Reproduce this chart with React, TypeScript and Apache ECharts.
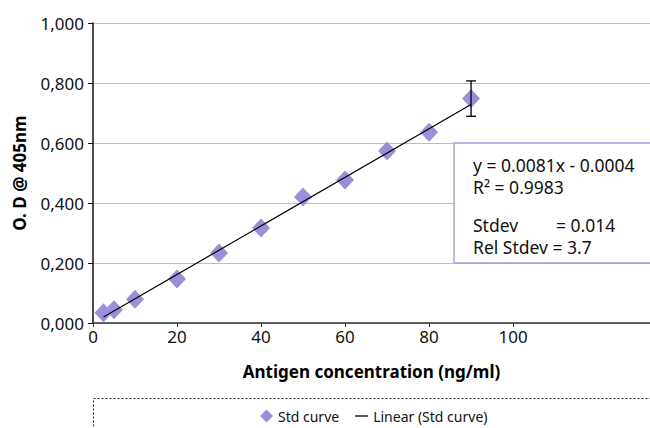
import React, { useEffect, useRef } from "react";
import * as echarts from "echarts";

const concentrations = [2.5, 5, 10, 20, 30, 40, 50, 60, 70, 80, 90];
const odValues = [0.034, 0.044, 0.079, 0.147, 0.233, 0.317, 0.42, 0.477, 0.573, 0.636, 0.748];
const errorBars = [[90, 0.748, 0.059]];
const slope = 0.0081;
const intercept = -0.0004;
const trendRange = [2.5, 90];
const xTickValues = [0, 20, 40, 60, 80, 100];
const statLines = ["y = 0.0081x - 0.0004", "R² = 0.9983"];

const FONT = "'Noto Sans', 'Open Sans', sans-serif";
const PURPLE = "#9b8fd9";

export default function App() {
  const ref = useRef<HTMLDivElement>(null);
  useEffect(() => {
    const chart = echarts.init(ref.current!, null, { renderer: "svg" });
    const trend = trendRange.map((x) => [x, slope * x + intercept]);
    chart.setOption({
      animation: false,
      backgroundColor: "#fff",
      textStyle: { fontFamily: FONT },
      grid: { left: 93, right: 0, top: 23, bottom: 105, containLabel: false },
      xAxis: {
        type: "value",
        min: 0,
        max: 132.6,
        name: "Antigen concentration (ng/ml)",
        nameLocation: "middle",
        nameGap: 40,
        nameTextStyle: { fontFamily: FONT, fontSize: 17, fontWeight: "bold", color: "#000" },
        axisLine: { show: true, lineStyle: { color: "#333", width: 1.5 } },
        axisTick: { show: true, customValues: xTickValues, length: 4, lineStyle: { color: "#333" } },
        axisLabel: {
          customValues: xTickValues,
          fontSize: 17,
          color: "#111",
          margin: 5,
          fontFamily: FONT,
        },
        splitLine: { show: false },
      },
      yAxis: {
        type: "value",
        min: 0,
        max: 1,
        interval: 0.2,
        name: "O. D @ 405nm",
        nameLocation: "middle",
        nameGap: 65,
        nameTextStyle: { fontFamily: FONT, fontSize: 17, fontWeight: "bold", color: "#000" },
        axisLine: { show: true, lineStyle: { color: "#111", width: 1.5 } },
        axisTick: { show: true, length: 5, lineStyle: { color: "#111" } },
        axisLabel: {
          fontSize: 17,
          color: "#111",
          margin: 9,
          fontFamily: FONT,
          formatter: (v: number) => v.toFixed(3).replace(".", ","),
        },
        splitLine: { show: true, lineStyle: { color: "#bdbdbd", width: 1.2 } },
      },
      legend: {
        left: 255,
        top: 404,
        itemGap: 16,
        itemWidth: 13,
        itemHeight: 13,
        textStyle: { fontFamily: FONT, fontSize: 14, color: "#111" },
        data: [
          { name: "Std curve", icon: "diamond", itemStyle: { color: PURPLE } },
          { name: "Linear (Std curve)", icon: "path://M0,0h10v1h-10z", itemStyle: { color: "#000" } },
        ],
      },
      series: [
        {
          name: "Linear (Std curve)",
          type: "line",
          data: trend,
          symbol: "none",
          lineStyle: { color: "#000", width: 1.2 },
          itemStyle: { color: "#000" },
          z: 3,
        },
        {
          name: "Std curve",
          type: "scatter",
          data: concentrations.map((c, i) => [c, odValues[i]]),
          symbol: "diamond",
          symbolSize: [18, 19],
          itemStyle: { color: PURPLE, opacity: 1 },
          z: 2,
        },
        {
          name: "errors",
          type: "custom",
          data: errorBars,
          z: 4,
          renderItem: (params: any, api: any) => {
            const x = api.value(0);
            const y = api.value(1);
            const e = api.value(2);
            const top = api.coord([x, y + e]);
            const bot = api.coord([x, y - e]);
            const cap = 5;
            const style = { stroke: "#000", lineWidth: 1.3 };
            return {
              type: "group",
              children: [
                { type: "line", shape: { x1: top[0], y1: top[1], x2: bot[0], y2: bot[1] }, style },
                { type: "line", shape: { x1: top[0] - cap, y1: top[1], x2: top[0] + cap, y2: top[1] }, style },
                { type: "line", shape: { x1: bot[0] - cap, y1: bot[1], x2: bot[0] + cap, y2: bot[1] }, style },
              ],
            };
          },
        },
      ],
      graphic: [
        {
          type: "rect",
          shape: { x: 454, y: 143, width: 260, height: 120 },
          style: { fill: "#fff", stroke: "#a89fd9", lineWidth: 1.5 },
          z: 10,
        },
        {
          type: "text",
          x: 473,
          y: 165,
          z: 11,
          style: { text: statLines[0], font: `17.5px ${FONT}`, fill: "#111", verticalAlign: "middle" },
        },
        {
          type: "text",
          x: 473,
          y: 187,
          z: 11,
          style: { text: statLines[1], font: `17.5px ${FONT}`, fill: "#111", verticalAlign: "middle" },
        },
        {
          type: "text",
          x: 473,
          y: 225,
          z: 11,
          style: { text: "Stdev", font: `17.5px ${FONT}`, fill: "#111", verticalAlign: "middle" },
        },
        {
          type: "text",
          x: 556,
          y: 225,
          z: 11,
          style: { text: "= 0.014", font: `17.5px ${FONT}`, fill: "#111", verticalAlign: "middle" },
        },
        {
          type: "text",
          x: 473,
          y: 247,
          z: 11,
          style: { text: "Rel Stdev = 3.7", font: `17.5px ${FONT}`, fill: "#111", verticalAlign: "middle" },
        },
        {
          type: "rect",
          shape: { x: 93.5, y: 398.5, width: 600, height: 60 },
          style: { fill: "none", stroke: "#222", lineWidth: 1, lineDash: [2, 2] },
          z: 1,
        },
      ],
    });
    return () => chart.dispose();
  }, []);
  return (
    <div
      ref={ref}
      style={{ position: "absolute", left: 0, top: 0, width: 650, height: 428, background: "#fff" }}
    />
  );
}
